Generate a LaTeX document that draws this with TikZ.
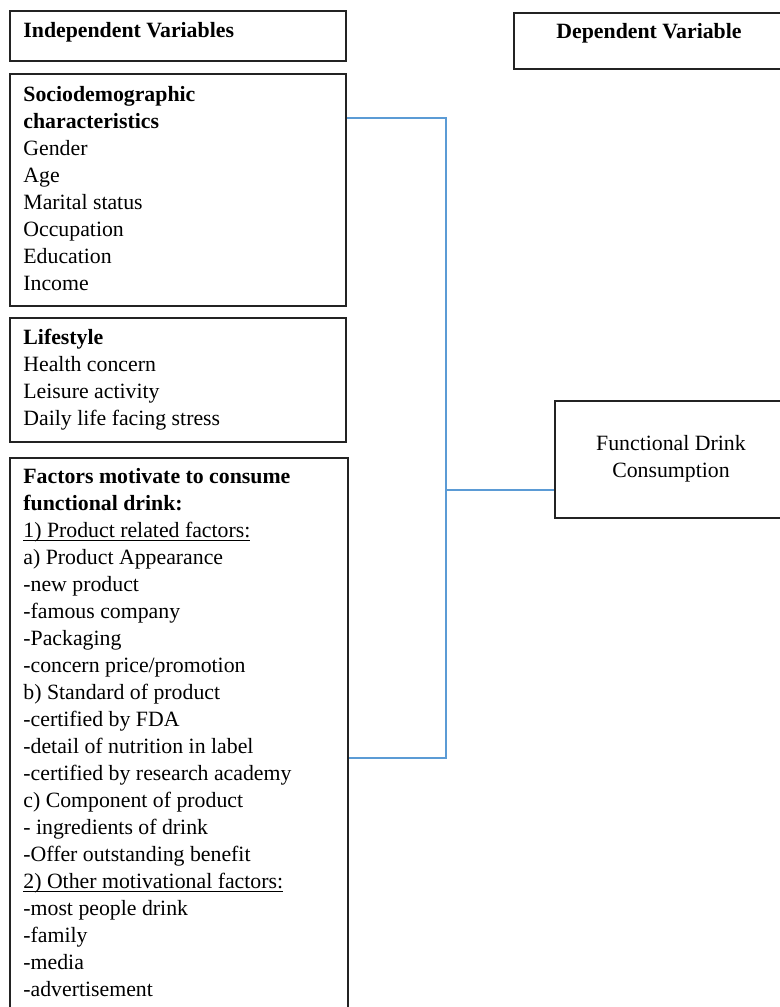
\documentclass[tikz,border=0pt]{standalone}
\usepackage{fontspec}
\setmainfont{Liberation Serif}
\usetikzlibrary{calc}
\definecolor{conblue}{RGB}{91,155,213}
\definecolor{boxgray}{RGB}{35,35,35}
\newcommand\wordul[1]{\setbox0\hbox{#1}\rlap{\rule[-1.6pt]{\wd0}{0.55pt}}\box0}
\begin{document}
\begin{tikzpicture}[x=0.5pt,y=-0.5pt,
  box/.style={draw=boxgray,line width=0.9pt,rectangle,inner sep=0pt,anchor=north west},
  txt/.style={inner sep=0pt,align=left,anchor=north west,font=\fontsize{10.9}{13.5}\selectfont},
  ctxt/.style={inner sep=0pt,align=center,anchor=north,font=\fontsize{10.9}{13.5}\selectfont},
  conn/.style={draw=conblue,line width=0.7pt}]
\useasboundingbox (0,0) rectangle (780,1007);
\clip (0,0) rectangle (780,1007);
\fill[white] (0,0) rectangle (780,1007);
% boxes
\node[box,minimum width=168pt,minimum height=25pt] (iv) at (9,10) {};
\node[box,minimum width=168pt,minimum height=116pt] (sd) at (9,73) {};
\node[box,minimum width=168pt,minimum height=62pt] (ls) at (9,317) {};
\node[box,minimum width=169pt,minimum height=280pt] (fm) at (9,457) {};
\node[box,minimum width=136pt,minimum height=28pt] (dv) at (513,12) {};
\node[box,minimum width=120pt,minimum height=58.5pt] (fd) at (554,400) {};
% texts
\node[txt] (ivt) at (23,18.1) {\strut\textbf{Independent Variables}};
\node[ctxt] (dvt) at (649,19.1) {\strut\textbf{Dependent Variable}};
\node[txt] (sdt) at (23,82.1) {\strut\textbf{Sociodemographic}\\\textbf{characteristics}\\Gender\\Age\\Marital status\\Occupation\\Education\\Income};
\node[txt] (lst) at (23,325.1) {\strut\textbf{Lifestyle}\\Health concern\\Leisure activity\\Daily life facing stress};
\node[txt] (fmt) at (23,464.1) {\strut\textbf{Factors motivate to consume}\\\textbf{functional drink:}\\\wordul{1) Product related factors:}\\a) Product Appearance\\-new product\\-famous company\\-Packaging\\-concern price/promotion\\b) Standard of product\\-certified by FDA\\-detail of nutrition in label\\-certified by research academy\\c) Component of product\\- ingredients of drink\\-Offer outstanding benefit\\\wordul{2) Other motivational factors:}\\-most people drink\\-family\\-media\\-advertisement};
\node[ctxt] (fdt) at (671,431.1) {\strut Functional Drink\\Consumption};
% connectors
\coordinate (j1) at (446,118);
\coordinate (j2) at (446,758);
\coordinate (j3) at (446,490);
\draw[conn] (sd.east |- j1) -- (j1) -- (j2) -- (fm.east |- j2);
\draw[conn] (j3) -- (fd.west |- j3);
\end{tikzpicture}
\end{document}
